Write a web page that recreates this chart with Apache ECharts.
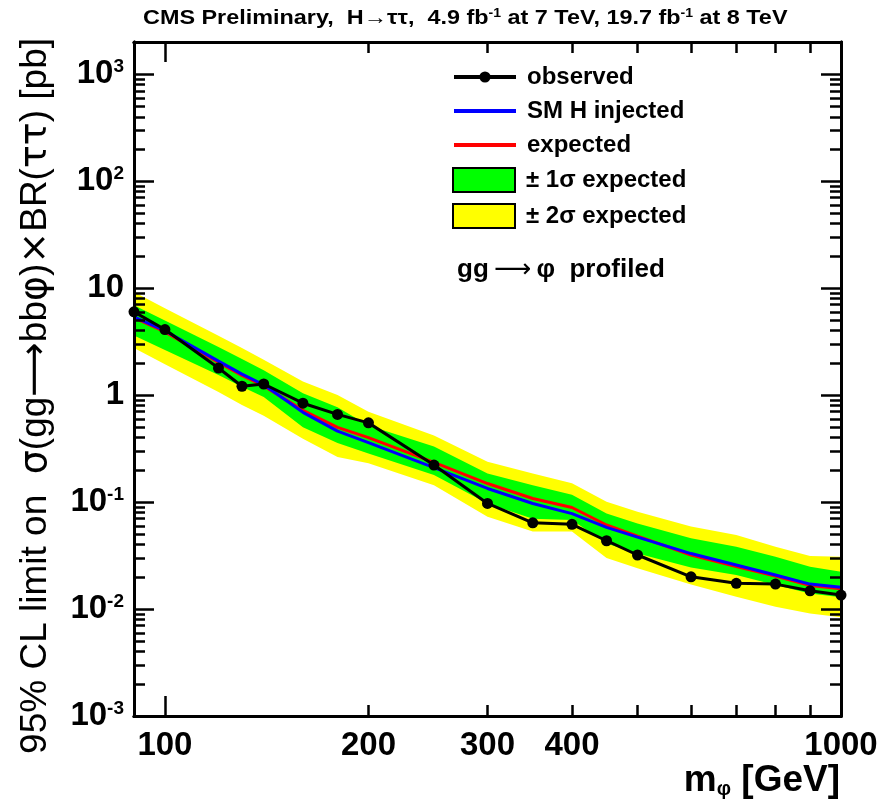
<!DOCTYPE html>
<html>
<head>
<meta charset="utf-8">
<script src="https://cdn.jsdelivr.net/npm/echarts@6/dist/echarts.min.js"></script>
<style>
  html, body { margin: 0; padding: 0; background: #ffffff; }
  #chart { width: 889px; height: 804px; }
</style>
</head>
<body>
<div id="chart"></div>
<script>
// Mass points (GeV)
const masses = [90, 100, 120, 130, 140, 160, 180, 200, 250, 300, 350, 400, 450, 500, 600, 700, 800, 900, 1000];
// 95% CL upper limits (pb)
const observed = [6.0, 4.1, 1.79, 1.21, 1.27, 0.84, 0.66, 0.55, 0.222, 0.097, 0.064, 0.062, 0.0435, 0.032, 0.020, 0.0174, 0.0171, 0.0148, 0.0135];
const expected = [5.3, 3.9, 2.02, 1.53, 1.22, 0.72, 0.50, 0.40, 0.235, 0.149, 0.108, 0.089, 0.061, 0.048, 0.032, 0.025, 0.0203, 0.0166, 0.0155];
const smInjected = [5.4, 4.0, 2.08, 1.57, 1.25, 0.69, 0.46, 0.36, 0.21, 0.134, 0.097, 0.078, 0.058, 0.047, 0.033, 0.0258, 0.0208, 0.0171, 0.0160];
const plus2 = [9.2, 6.5, 3.58, 2.75, 2.14, 1.34, 1.0, 0.70, 0.42, 0.238, 0.185, 0.15, 0.1007, 0.081, 0.059, 0.0492, 0.0382, 0.0313, 0.0308];
const plus1 = [6.9, 4.97, 2.81, 2.17, 1.71, 1.04, 0.77, 0.52, 0.33, 0.185, 0.144, 0.117, 0.078, 0.063, 0.0458, 0.0382, 0.0308, 0.0249, 0.0223];
const minus1 = [3.6, 2.64, 1.54, 1.2, 0.96, 0.50, 0.356, 0.285, 0.179, 0.097, 0.070, 0.068, 0.041, 0.033, 0.0245, 0.0208, 0.0168, 0.0140, 0.0129];
const minus2 = [2.75, 1.94, 1.07, 0.81, 0.64, 0.39, 0.264, 0.23, 0.144, 0.073, 0.053, 0.053, 0.030, 0.024, 0.017, 0.0130, 0.0105, 0.0091, 0.0084];

// Axis ticks
const xLabelTicks = [100, 200, 300, 400, 1000];
const xMajorTicks = [100];
const xMinorTicks = [200, 300, 400, 500, 600, 700, 800, 900, 1000];
const yMajorTicks = [0.001, 0.01, 0.1, 1, 10, 100, 1000];
const yMinorMultipliers = [2, 3, 4, 5, 6, 7, 8, 9];

const yMinorTicks = [];
yMajorTicks.forEach(function (d) {
  yMinorMultipliers.forEach(function (m) {
    const v = d * m;
    if (v <= 2000) yMinorTicks.push(v);
  });
});

const FONT = "'Liberation Sans', Arial, Helvetica, sans-serif";
const SYMBOL_FONT = "'DejaVu Sans', sans-serif";
const X_MIN = 90, X_MAX = 1000, Y_MIN = 0.001, Y_MAX = 2000;

function pairs(ys) { return masses.map(function (m, i) { return [m, ys[i]]; }); }

function xAxisDef(position, ticks, len, withLabels) {
  return {
    type: 'log', logBase: 10, min: X_MIN, max: X_MAX, position: position, z: 10,
    axisLine: { show: true, onZero: false, lineStyle: { color: '#000', width: 3 } },
    axisTick: { show: true, inside: true, length: len, customValues: ticks, lineStyle: { color: '#000', width: 2.5 } },
    axisLabel: withLabels ? {
      show: true, customValues: xLabelTicks, margin: 13, color: '#000',
      fontFamily: FONT, fontWeight: 'bold', fontSize: 33,
      formatter: function (v) { return String(Math.round(v)); }
    } : { show: false },
    splitLine: { show: false }, minorTick: { show: false }
  };
}

function yLabelFormatter(v) {
  const k = Math.round(Math.log10(v));
  if (k === 0) return '{b|1}';
  if (k === 1) return '{b|10}';
  return '{b|10}{s|' + k + '}';
}

function yAxisDef(position, ticks, len, withLabels) {
  return {
    type: 'log', logBase: 10, min: Y_MIN, max: Y_MAX, position: position, z: 10,
    axisLine: { show: true, onZero: false, lineStyle: { color: '#000', width: 3 } },
    axisTick: { show: true, inside: true, length: len, customValues: ticks, lineStyle: { color: '#000', width: 2.5 } },
    axisLabel: withLabels ? {
      show: true, customValues: yMajorTicks, margin: 10, color: '#000',
      formatter: yLabelFormatter,
      rich: {
        b: { fontFamily: FONT, fontWeight: 'bold', fontSize: 33, color: '#000', lineHeight: 33 },
        s: { fontFamily: FONT, fontWeight: 'bold', fontSize: 19, color: '#000', lineHeight: 19, verticalAlign: 'top' }
      }
    } : { show: false },
    splitLine: { show: false }, minorTick: { show: false }
  };
}

// Filled band between a lower and an upper limit curve
function bandSeries(name, lower, upper, color, z) {
  return {
    name: name, type: 'custom', z: z, silent: true, clip: true,
    itemStyle: { color: color },
    encode: { x: 0, y: [1, 2] },
    data: masses.map(function (m, i) { return [m, lower[i], upper[i]]; }),
    renderItem: function (params, api) {
      if (params.dataIndex !== 0) return null;
      const pts = [];
      for (let i = 0; i < masses.length; i++) pts.push(api.coord([masses[i], upper[i]]));
      for (let i = masses.length - 1; i >= 0; i--) pts.push(api.coord([masses[i], lower[i]]));
      return { type: 'polygon', shape: { points: pts }, style: { fill: color } };
    }
  };
}

const legendText = { fontFamily: FONT, fontWeight: 'bold', fontSize: 24, color: '#000', lineHeight: 24, padding: [0, 0, 0, 6] };
const hiddenSymbol = { color: 'rgba(0,0,0,0)', borderWidth: 0 };

const chart = echarts.init(document.getElementById('chart'), null, { renderer: 'canvas' });

chart.setOption({
  animation: false,
  backgroundColor: '#ffffff',
  grid: { left: 134, right: 48, top: 42, bottom: 88, show: false, containLabel: false },
  legend: [
    {
      data: [
        { name: 'observed', lineStyle: { width: 4 } },
        { name: 'SM H injected', lineStyle: { width: 4 }, itemStyle: hiddenSymbol },
        { name: 'expected', lineStyle: { width: 4 }, itemStyle: hiddenSymbol }
      ],
      orient: 'vertical', left: 452, top: 65, padding: 0,
      itemWidth: 62, itemHeight: 14, itemGap: 10,
      selectedMode: false, textStyle: legendText
    },
    {
      data: [
        { name: '\u00b1 1\u03c3 expected', icon: 'rect', itemStyle: { color: '#00ff00', borderColor: '#000', borderWidth: 2 } },
        { name: '\u00b1 2\u03c3 expected', icon: 'rect', itemStyle: { color: '#ffff00', borderColor: '#000', borderWidth: 2 } }
      ],
      orient: 'vertical', left: 452, top: 167, padding: 0,
      itemWidth: 62, itemHeight: 24, itemGap: 10,
      selectedMode: false, textStyle: legendText
    }
  ],
  xAxis: [
    xAxisDef('bottom', xMajorTicks, 20, true),
    xAxisDef('bottom', xMinorTicks, 11, false),
    xAxisDef('top', xMajorTicks, 20, false),
    xAxisDef('top', xMinorTicks, 11, false)
  ],
  yAxis: [
    yAxisDef('left', yMajorTicks, 20, true),
    yAxisDef('left', yMinorTicks, 11, false),
    yAxisDef('right', yMajorTicks, 20, false),
    yAxisDef('right', yMinorTicks, 11, false)
  ],
  series: [
    bandSeries('\u00b1 2\u03c3 expected', minus2, plus2, '#ffff00', 1),
    bandSeries('\u00b1 1\u03c3 expected', minus1, plus1, '#00ff00', 2),
    {
      name: 'expected', type: 'line', data: pairs(expected), symbol: 'none',
      lineStyle: { color: '#ff0000', width: 3 }, itemStyle: { color: '#ff0000' }, z: 3
    },
    {
      name: 'SM H injected', type: 'line', data: pairs(smInjected), symbol: 'none',
      lineStyle: { color: '#0000ff', width: 3 }, itemStyle: { color: '#0000ff' }, z: 4
    },
    {
      name: 'observed', type: 'line', data: pairs(observed),
      symbol: 'circle', symbolSize: 11, clip: false,
      lineStyle: { color: '#000', width: 3 }, itemStyle: { color: '#000' }, z: 5
    }
  ],
  graphic: [
    {
      type: 'text', x: 143, y: 18, scaleX: 1.17, z: 20,
      style: {
        text: 'CMS Preliminary,  H{a|\u2192}\u03c4\u03c4,  4.9 fb{sup|-1} at 7 TeV, 19.7 fb{sup|-1} at 8 TeV',
        fontFamily: FONT, fontWeight: 'bold', fontSize: 20, fill: '#000', align: 'left', verticalAlign: 'middle',
        rich: {
          a: { fontFamily: FONT, fontWeight: 'normal', fontSize: 20, fill: '#000' },
          sup: { fontFamily: FONT, fontWeight: 'bold', fontSize: 12, fill: '#000', verticalAlign: 'top' }
        }
      }
    },
    {
      type: 'text', x: 457, y: 270, z: 20,
      style: {
        text: 'gg{a|\u2009\u27f6\u2009}\u03c6  profiled',
        fontFamily: FONT, fontWeight: 'bold', fontSize: 26, fill: '#000', align: 'left', verticalAlign: 'middle',
        rich: { a: { fontFamily: SYMBOL_FONT, fontWeight: 'normal', fontSize: 26, fill: '#000' } }
      }
    },
    {
      type: 'text', x: 36, y: 38, rotation: Math.PI / 2, z: 20,
      style: {
        text: '95% CL limit on  {g|\u03c3}(gg{g|\u27f6}bb{g|\u03c6}){g|\u00d7}BR({g|\u03c4\u03c4}) [pb]',
        fontFamily: FONT, fontSize: 37, fill: '#000', align: 'right', verticalAlign: 'middle',
        rich: { g: { fontFamily: SYMBOL_FONT, fontSize: 38, fill: '#000' } }
      }
    },
    {
      type: 'text', x: 840, y: 781, z: 20,
      style: {
        text: 'm{sub|\u03c6} [GeV]',
        fontFamily: FONT, fontWeight: 'bold', fontSize: 37, fill: '#000', align: 'right', verticalAlign: 'middle',
        rich: { sub: { fontFamily: FONT, fontWeight: 'bold', fontSize: 20, fill: '#000', verticalAlign: 'bottom' } }
      }
    }
  ]
});
</script>
</body>
</html>
